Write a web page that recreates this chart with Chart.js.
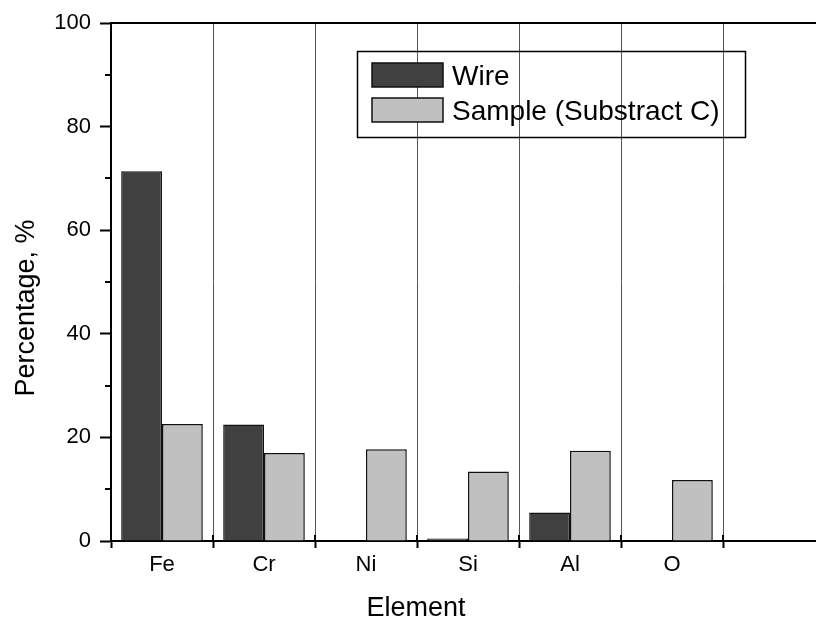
<!DOCTYPE html>
<html>
<head>
<meta charset="utf-8">
<title>Element composition</title>
<script src="https://cdn.jsdelivr.net/npm/chart.js@4"></script>
<style>
  html, body { margin: 0; padding: 0; background: #fff; overflow: hidden; }
  #wrap { width: 840px; height: 619px; }
</style>
</head>
<body>
<div id="wrap"><canvas id="bars" width="840" height="619"></canvas></div>
<script>
// elements (last slot is an empty column on the right of the frame)
var elements = ["Fe", "Cr", "Ni", "Si", "Al", "O", ""];
var wire = [71.4, 22.5, null, 0.5, 5.5, null, null];
var sample = [22.6, 17.0, 17.7, 13.4, 17.4, 11.8, null];
var seriesNames = ["Wire", "Sample (Substract C)"];
var yTicks = [0, 20, 40, 60, 80, 100];

var FONT = "'Liberation Sans', Arial, Helvetica, sans-serif";

// frame, minor ticks, legend and axis titles
var extras = {
  id: "extras",
  afterDraw: function (chart) {
    var c = chart.ctx;
    var a = chart.chartArea;
    var xs = chart.scales.x;
    var ys = chart.scales.y;
    c.save();

    // top border
    c.strokeStyle = "#000";
    c.lineWidth = 2;
    c.beginPath();
    c.moveTo(a.left - 1, a.top);
    c.lineTo(a.right, a.top);
    c.stroke();

    // minor y ticks
    c.beginPath();
    for (var v = 10; v < 100; v += 20) {
      var py = Math.round(ys.getPixelForValue(v));
      c.moveTo(a.left - 6, py);
      c.lineTo(a.left, py);
    }
    c.stroke();

    // x ticks on the inside at the column boundaries
    var half = (xs.getPixelForValue(1) - xs.getPixelForValue(0)) / 2;
    c.beginPath();
    for (var i = 0; i <= elements.length; i++) {
      var px = Math.round(xs.getPixelForValue(i) - half);
      c.moveTo(px, a.bottom);
      c.lineTo(px, a.bottom - 6);
    }
    c.stroke();

    // legend
    c.lineWidth = 1.5;
    c.strokeRect(357.5, 51.5, 388, 86);
    c.font = "28px " + FONT;
    c.textBaseline = "alphabetic";
    c.textAlign = "left";
    var rows = [63, 98];
    chart.data.datasets.forEach(function (ds, k) {
      c.fillStyle = ds.backgroundColor;
      c.fillRect(372, rows[k], 71, 24);
      c.strokeStyle = "#111";
      c.lineWidth = 1.5;
      c.strokeRect(372, rows[k], 71, 24);
      c.fillStyle = "#000";
      c.fillText(ds.label, 452, rows[k] + 22);
    });

    // axis titles
    c.font = "27px " + FONT;
    c.fillStyle = "#000";
    c.textAlign = "center";
    c.fillText("Element", 416, 616);
    c.translate(34, 308);
    c.rotate(-Math.PI / 2);
    c.fillText("Percentage, %", 0, 0);
    c.restore();
  }
};

var ctx = document.getElementById("bars").getContext("2d");
var chart = new Chart(ctx, {
  type: "bar",
  data: {
    labels: elements,
    datasets: [
      {
        label: seriesNames[0],
        data: wire,
        backgroundColor: "#404040",
        borderColor: "#111",
        borderWidth: 1.5,
        borderSkipped: "bottom"
      },
      {
        label: seriesNames[1],
        data: sample,
        backgroundColor: "#c0c0c0",
        borderColor: "#111",
        borderWidth: 1.5,
        borderSkipped: "bottom"
      }
    ]
  },
  options: {
    responsive: false,
    animation: false,
    layout: { padding: { top: 23, right: 15, left: 0, bottom: 0 } },
    datasets: { bar: { categoryPercentage: 0.8, barPercentage: 1.0 } },
    plugins: {
      legend: { display: false },
      tooltip: { enabled: false }
    },
    scales: {
      x: {
        offset: true,
        grid: {
          offset: true,
          color: "#555",
          lineWidth: 1,
          tickColor: "#000",
          tickWidth: 2,
          tickLength: 7
        },
        border: { color: "#000", width: 2 },
        ticks: { color: "#000", font: { family: FONT, size: 22 }, padding: 4 },
        afterFit: function (s) { s.height = 78; }
      },
      y: {
        min: 0,
        max: 100,
        grid: {
          drawOnChartArea: false,
          tickLength: 11,
          tickWidth: 2,
          tickColor: function (c) {
            return yTicks.indexOf(c.tick.value) >= 0 ? "#000" : "rgba(0,0,0,0)";
          }
        },
        border: { color: "#000", width: 2 },
        ticks: {
          stepSize: 10,
          color: "#000",
          font: { family: FONT, size: 22 },
          padding: 9,
          callback: function (v) { return yTicks.indexOf(v) >= 0 ? v : ""; }
        },
        afterFit: function (s) { s.width = 111; }
      }
    }
  },
  plugins: [extras]
});
</script>
</body>
</html>
